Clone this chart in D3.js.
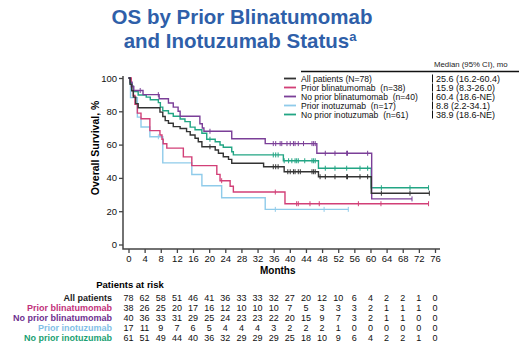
<!DOCTYPE html>
<html>
<head>
<meta charset="utf-8">
<script src="https://cdn.jsdelivr.net/npm/d3@7"></script>
<style>
body { margin: 0; background: #fff; }
svg { font-family: "Liberation Sans", Arial, sans-serif; }
</style>
</head>
<body>
<svg id="chart" width="527" height="349"></svg>
<script>
// tick labels
const monthTicks = [0, 4, 8, 12, 16, 20, 24, 28, 32, 36, 40, 44, 48, 52, 56, 60, 64, 68, 72, 76];
const survivalTicks = [0, 20, 40, 60, 80, 100];

// categories
const groupNames = ['All patients', 'Prior blinatumomab', 'No prior blinatumomab', 'Prior inotuzumab', 'No prior inotuzumab'];
const legendLabels = ['All patients (N=78)', 'Prior blinatumomab\u00a0 (n=38)', 'No prior blinatumomab\u00a0 (n=40)', 'Prior inotuzumab\u00a0 (n=17)', 'No prior inotuzumab\u00a0 (n=61)'];
const medianLabels = ['25.6 (16.2-60.4)', '15.9 (8.3-26.0)', '60.4 (18.6-NE)', '8.8 (2.2-34.1)', '38.9 (18.6-NE)'];

// survival steps: [month, % surviving from that month on]
const allSteps = [[0, 100], [0.4, 96.2], [0.8, 92.3], [1.2, 88.5], [1.8, 84.6], [2.4, 82.1], [7.8, 79.5], [8.5, 76.9], [9.1, 74.4], [9.9, 72.8], [11.1, 70.8], [12.8, 69.7], [14.4, 67.8], [15.3, 65.8], [16.5, 63.8], [17.3, 61.7], [18.2, 58.7], [21.5, 56.8], [22.3, 54.8], [23.5, 52.7], [24.8, 51.1], [25.6, 48.8], [33.5, 46.7], [38.6, 43.7], [47.1, 40.7], [60.2, 30.8]];
const priorBlinSteps = [[0, 100], [0.7, 94.7], [1.2, 89.5], [1.6, 84.2], [2.2, 78.9], [3.1, 75.5], [5.3, 68.4], [7.8, 65.8], [8.3, 63.2], [8.6, 60.5], [9.5, 57.9], [13.6, 52.6], [15.7, 47.4], [21.9, 42.1], [22.7, 38.3], [25.2, 35], [26, 31.5], [38.8, 24.5]];
const noPriorBlinSteps = [[0, 100], [0.4, 97.5], [0.9, 95], [1.3, 92.5], [3.6, 90], [7.6, 87.5], [9.9, 85], [11.1, 82.5], [12.3, 80], [12.8, 77], [17.7, 72.5], [18.3, 70], [18.7, 68], [25.6, 63.5], [33.9, 60.6], [46.7, 54.8], [60.3, 27.4]];
const priorInoSteps = [[0, 100], [0.5, 88.2], [2.2, 76.5], [3.1, 70.6], [5.3, 64.7], [8.5, 49], [15.7, 42], [18.2, 35.3], [23.1, 28.1], [33.9, 21.1]];
const noPriorInoSteps = [[0, 100], [0.4, 96.7], [0.8, 95.1], [1.2, 91.8], [2.4, 89.8], [4.4, 88.5], [5.4, 86.9], [7.4, 85.2], [7.9, 82.5], [8.5, 80.3], [9.9, 78.7], [11.1, 77], [12.8, 75.4], [14, 73.8], [15.3, 70.5], [16.5, 68.9], [18.2, 66.8], [19.4, 63.2], [21.5, 61.7], [22.7, 59.8], [23.5, 58.4], [25.6, 55.7], [26, 53.8], [38.4, 50.3], [47.1, 45.8], [60.2, 34.1]];

// last follow-up month of each curve
const curveEnds = [74.6, 74.4, 70.3, 54.5, 74.4];

// censored observations (months)
const allCensor = [20.2, 35.9, 36.5, 37.1, 39.5, 40.1, 40.9, 41.3, 42.1, 42.6, 45.5, 45.9, 46.3, 47.5, 48.8, 51.2, 54.1, 54.3, 57.4, 59.3, 62.7, 69.8, 74.6];
const priorBlinCensor = [23.1, 36.4, 41.7, 42.1, 45, 47.3, 57, 62.6, 74.4];
const noPriorBlinCensor = [2.9, 7.4, 20.2, 35.9, 36.5, 37.6, 38, 39.3, 40.1, 40.9, 41.3, 42.1, 43.4, 45.5, 45.9, 46.3, 48.8, 51.2, 54.1, 54.3, 59.3, 70.3];
const priorInoCensor = [7.4, 36.4, 48.5, 54.5];
const noPriorInoCensor = [20.2, 35.9, 36.5, 37.1, 38.6, 39.7, 40.5, 41.3, 41.7, 42.1, 43.7, 45.5, 45.9, 46.3, 48.8, 51.2, 54.1, 57.4, 59.3, 62.7, 69.8, 74.4];

// patients at risk at each month tick
const allAtRisk = [78, 62, 58, 51, 46, 41, 36, 33, 33, 32, 27, 20, 12, 10, 6, 4, 2, 2, 1, 0];
const priorBlinAtRisk = [38, 26, 25, 20, 17, 16, 12, 10, 10, 10, 7, 5, 3, 3, 3, 2, 1, 1, 1, 0];
const noPriorBlinAtRisk = [40, 36, 33, 31, 29, 25, 24, 23, 23, 22, 20, 15, 9, 7, 3, 2, 1, 1, 0, 0];
const priorInoAtRisk = [17, 11, 9, 7, 6, 5, 4, 4, 4, 3, 2, 2, 2, 1, 0, 0, 0, 0, 0, 0];
const noPriorInoAtRisk = [61, 51, 49, 44, 40, 36, 32, 29, 29, 29, 25, 18, 10, 9, 6, 4, 2, 2, 1, 0];

const lineColors = ['#333333', '#d23f77', '#7b3f98', '#8fcbea', '#22a584'];
const labelColors = ['#222222', '#c2307a', '#6e2f8f', '#7fc0e6', '#1a9f73'];

const groups = groupNames.map((name, i) => ({
    name: name,
    legend: legendLabels[i],
    median: medianLabels[i],
    steps: [allSteps, priorBlinSteps, noPriorBlinSteps, priorInoSteps, noPriorInoSteps][i],
    censor: [allCensor, priorBlinCensor, noPriorBlinCensor, priorInoCensor, noPriorInoCensor][i],
    atRisk: [allAtRisk, priorBlinAtRisk, noPriorBlinAtRisk, priorInoAtRisk, noPriorInoAtRisk][i],
    end: curveEnds[i],
    color: lineColors[i],
    labelColor: labelColors[i]
}));

const svg = d3.select('#chart');

const x = d3.scaleLinear().domain([0, 76]).range([128.5, 435]);
const y = d3.scaleLinear().domain([0, 100]).range([244.5, 78]);

// title
const title = svg.append('text')
    .attr('x', 242)
    .attr('text-anchor', 'middle')
    .style('font-size', '20.5px')
    .style('font-weight', 'bold')
    .attr('fill', '#2f5fa9');
title.append('tspan').attr('x', 242).attr('y', 24).text('OS by Prior Blinatumomab');
title.append('tspan').attr('x', 240).attr('y', 48).text('and Inotuzumab Status')
    .append('tspan').attr('dy', -7).style('font-size', '13px').text('a');

// axes
const axisColor = '#444';
const yAxis = svg.append('g')
    .attr('transform', 'translate(' + (x(0) - 5.5) + ',0)')
    .call(d3.axisLeft(y).tickValues(survivalTicks).tickSize(4).tickPadding(2));
const xAxis = svg.append('g')
    .attr('transform', 'translate(0,' + (y(0) + 4.5) + ')')
    .call(d3.axisBottom(x).tickValues(monthTicks).tickSize(4).tickPadding(2));

[yAxis, xAxis].forEach(a => {
    a.select('.domain').remove();
    a.selectAll('line').attr('stroke', axisColor).attr('stroke-width', 1.3);
    a.selectAll('text').attr('fill', '#111').style('font-size', '9.5px')
        .style('font-family', '"Liberation Sans", Arial, sans-serif');
});

svg.append('path')
    .attr('d', 'M' + (x(0) - 5.5) + ',' + (y(100) - 2) + 'V' + (y(0) + 4.5) + 'H' + (x(76) + 5))
    .attr('fill', 'none')
    .attr('stroke', axisColor)
    .attr('stroke-width', 1.5);

svg.append('text')
    .attr('transform', 'translate(99,' + y(58) + ') rotate(-90)')
    .attr('text-anchor', 'middle')
    .style('font-size', '10.5px')
    .style('font-weight', 'bold')
    .text('Overall Survival, %');

svg.append('text')
    .attr('x', x(37))
    .attr('y', 274)
    .attr('text-anchor', 'middle')
    .style('font-size', '10px')
    .style('font-weight', 'bold')
    .text('Months');

// curves
const stepLine = d3.line()
    .x(d => x(d[0]))
    .y(d => y(d[1]))
    .curve(d3.curveStepAfter);

function survivalAt(steps, t) {
    let s = steps[0][1];
    steps.forEach(d => { if (d[0] <= t) s = d[1]; });
    return s;
}

const drawOrder = [3, 1, 4, 2, 0];
drawOrder.forEach(i => {
    const g = groups[i];
    const pts = g.steps.concat([[g.end, g.steps[g.steps.length - 1][1]]]);
    const cg = svg.append('g');
    cg.append('path')
        .attr('d', stepLine(pts))
        .attr('fill', 'none')
        .attr('stroke', g.color)
        .attr('stroke-width', 1.4);
    cg.selectAll('line')
        .data(g.censor)
        .join('line')
        .attr('x1', d => x(d))
        .attr('x2', d => x(d))
        .attr('y1', d => y(survivalAt(g.steps, d)) - 2.5)
        .attr('y2', d => y(survivalAt(g.steps, d)) + 2.5)
        .attr('stroke', g.color)
        .attr('stroke-width', 1);
});

// legend
const legend = svg.append('g');
legend.append('text')
    .attr('x', 434)
    .attr('y', 67)
    .style('font-size', '7.8px')
    .attr('fill', '#222')
    .text('Median (95% CI), mo');
legend.append('line')
    .attr('x1', 301).attr('x2', 519)
    .attr('y1', 71.5).attr('y2', 71.5)
    .attr('stroke', '#111').attr('stroke-width', 1.5);

const rows = legend.selectAll('g.row')
    .data(groups)
    .join('g')
    .classed('row', true)
    .attr('transform', (d, i) => 'translate(0,' + (78.5 + i * 9) + ')');
rows.append('line')
    .attr('x1', 284).attr('x2', 296)
    .attr('stroke', d => d.color)
    .attr('stroke-width', 1.8);
rows.append('text')
    .attr('x', 301).attr('y', 3.2)
    .style('font-size', '8.6px')
    .attr('fill', '#111')
    .text(d => d.legend);
rows.append('line')
    .attr('x1', 432.5).attr('x2', 432.5)
    .attr('y1', -4).attr('y2', 4)
    .attr('stroke', '#111').attr('stroke-width', 1);
rows.append('text')
    .attr('x', 436).attr('y', 3.2)
    .style('font-size', '9px')
    .attr('fill', '#111')
    .text(d => d.median);

// patients at risk
svg.append('text')
    .attr('x', 130)
    .attr('y', 288)
    .attr('text-anchor', 'middle')
    .style('font-size', '9.5px')
    .style('font-weight', 'bold')
    .text('Patients at risk');

const riskRows = svg.selectAll('g.risk')
    .data(groups)
    .join('g')
    .classed('risk', true)
    .attr('transform', (d, i) => 'translate(0,' + (301 + i * 10) + ')');
riskRows.append('text')
    .attr('x', 112)
    .attr('text-anchor', 'end')
    .style('font-size', '9px')
    .style('font-weight', 'bold')
    .attr('fill', d => d.labelColor)
    .text(d => d.name);
riskRows.selectAll('text.n')
    .data(d => d.atRisk)
    .join('text')
    .classed('n', true)
    .attr('x', (d, i) => x(monthTicks[i]))
    .attr('text-anchor', 'middle')
    .style('font-size', '9px')
    .attr('fill', '#111')
    .text(d => d);
</script>
</body>
</html>
